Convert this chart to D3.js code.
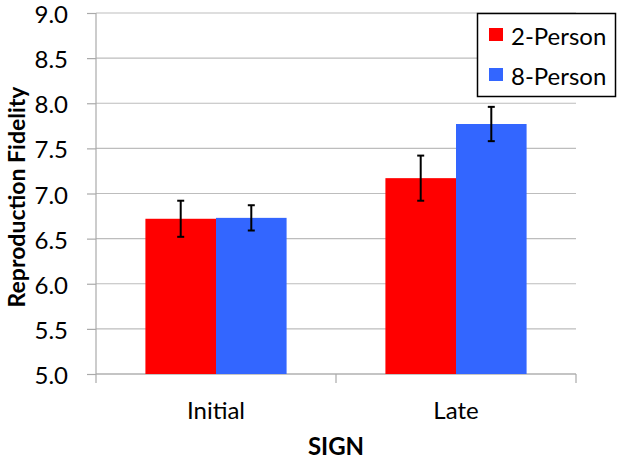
<!DOCTYPE html>
<html><head><meta charset="utf-8">
<script src="https://cdn.jsdelivr.net/npm/d3@7"></script>
<style>body{margin:0;background:#fff}svg{display:block}text{font-family:Lato,"Open Sans",sans-serif}</style>
</head><body>
<svg id="c" width="623" height="462"></svg>
<script>
const categories = ["Initial", "Late"];
const seriesNames = ["2-Person", "8-Person"];
const values2 = [6.72, 7.17];
const values8 = [6.73, 7.77];
const err2 = [0.20, 0.25];
const err8 = [0.14, 0.19];
const yTicks = [5.0, 5.5, 6.0, 6.5, 7.0, 7.5, 8.0, 8.5, 9.0];
const colors = ["#ff0000", "#3366ff"];
const FONT = "Lato, 'Open Sans', sans-serif";

const svg = d3.select("#c");
const m = {l: 96, r: 576, t: 13, b: 374};
const x = d3.scaleBand().domain(categories).range([m.l, m.r]).paddingInner(0).paddingOuter(0);
const y = d3.scaleLinear().domain([5, 9]).range([m.b, m.t]);
const x1 = d3.scaleBand().domain(seriesNames).range([0, x.bandwidth()]).paddingInner(0).paddingOuter(0.7);

// gridlines
svg.append("g").selectAll("line").data(yTicks).join("line")
  .attr("x1", m.l).attr("x2", m.r).attr("y1", d => y(d)).attr("y2", d => y(d))
  .attr("stroke", "#bdbdbd").attr("stroke-width", 1.2);

// y axis
const ya = svg.append("g").attr("transform", `translate(${m.l},0)`)
  .call(d3.axisLeft(y).tickValues(yTicks).tickFormat(d3.format(".1f")).tickSize(9).tickPadding(19));
ya.select(".domain").attr("stroke", "#aaa").attr("stroke-width", 1.2).attr("d", `M0,${m.t}V${m.b}`);
ya.selectAll(".tick line").attr("stroke", "#aaa").attr("stroke-width", 1.2);
ya.selectAll("text").attr("font-size", 24).attr("fill", "#000").attr("font-family", FONT).attr("dy", "0.4em");

// x axis
const xa = svg.append("g").attr("transform", `translate(0,${m.b})`)
  .call(d3.axisBottom(x).tickSize(0).tickPadding(28));
xa.select(".domain").attr("stroke", "#aaa").attr("stroke-width", 1.2).attr("d", `M${m.l},0H${m.r}`);
xa.selectAll("text").attr("font-size", 24).attr("fill", "#000").attr("font-family", FONT);
const bounds = [m.l, m.l + x.bandwidth(), m.r];
svg.append("g").selectAll("line").data(bounds).join("line")
  .attr("x1", d => d).attr("x2", d => d).attr("y1", m.b).attr("y2", m.b + 9)
  .attr("stroke", "#aaa").attr("stroke-width", 1.2);

// bars
const data = [];
categories.forEach((c, i) => {
  data.push({c, s: seriesNames[0], v: values2[i], e: err2[i], col: colors[0]});
  data.push({c, s: seriesNames[1], v: values8[i], e: err8[i], col: colors[1]});
});
svg.append("g").selectAll("rect").data(data).join("rect")
  .attr("x", d => x(d.c) + x1(d.s)).attr("width", x1.bandwidth())
  .attr("y", d => y(d.v)).attr("height", d => y(5) - y(d.v))
  .attr("fill", d => d.col);

// error bars
const eb = svg.append("g").attr("stroke", "#000").attr("stroke-width", 2);
data.forEach(d => {
  const cx = x(d.c) + x1(d.s) + x1.bandwidth() / 2;
  eb.append("line").attr("x1", cx).attr("x2", cx).attr("y1", y(d.v + d.e)).attr("y2", y(d.v - d.e));
  eb.append("line").attr("x1", cx - 3.5).attr("x2", cx + 3.5).attr("y1", y(d.v + d.e)).attr("y2", y(d.v + d.e));
  eb.append("line").attr("x1", cx - 3.5).attr("x2", cx + 3.5).attr("y1", y(d.v - d.e)).attr("y2", y(d.v - d.e));
});

// axis titles
svg.append("text").attr("transform", "translate(25,197) rotate(-90)")
  .attr("text-anchor", "middle").attr("font-size", 23).attr("font-weight", "bold").text("Reproduction Fidelity");
svg.append("text").attr("x", x(categories[0]) + x.bandwidth()).attr("y", 455)
  .attr("text-anchor", "middle").attr("font-size", 24).attr("font-weight", "bold").text("SIGN");

// legend
const lg = svg.append("g");
lg.append("rect").attr("x", 477.5).attr("y", 13.5).attr("width", 138).attr("height", 83)
  .attr("fill", "#fff").attr("stroke", "#000").attr("stroke-width", 1.5);
seriesNames.forEach((s, i) => {
  lg.append("rect").attr("x", 489).attr("y", 28 + i * 40).attr("width", 14).attr("height", 13).attr("fill", colors[i]);
  lg.append("text").attr("x", 511).attr("y", 45 + i * 40).attr("font-size", 24).text(s);
});
</script>
</body></html>
